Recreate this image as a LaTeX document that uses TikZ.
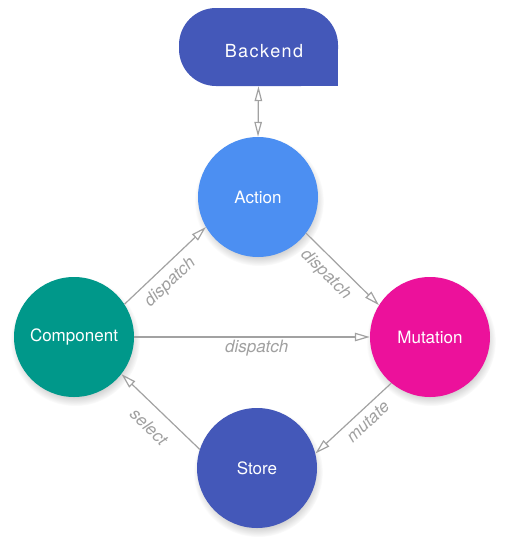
\documentclass[tikz,border=0pt]{standalone}
\usepackage{fontspec}
\setmainfont{TeX Gyre Heros}
\usetikzlibrary{arrows.meta,shadows}
\definecolor{indigoc}{RGB}{68,88,185}
\definecolor{actionc}{RGB}{76,143,242}
\definecolor{tealc}{RGB}{0,152,138}
\definecolor{pinkc}{RGB}{236,17,155}
\definecolor{linec}{RGB}{162,162,162}
\definecolor{labelc}{RGB}{160,160,160}
\tikzset{
  circ/.style={circle, minimum size=120pt, inner sep=0pt, text=white,
    font=\fontsize{17}{20}\selectfont,
    circular drop shadow={shadow xshift=1pt, shadow yshift=-4pt, shadow scale=1.08, opacity=0.35}},
  tip/.style={Triangle[open, length=15pt, width=8pt]},
  conn/.style={draw=linec, line width=1.2pt, -{Triangle[open, length=15pt, width=8.5pt]}},
  biconn/.style={draw=linec, line width=1.2pt, {Triangle[open, length=15pt, width=7.5pt]}-{Triangle[open, length=15pt, width=7.5pt]}},
  lbl/.style={font=\fontsize{17}{20}\selectfont\itshape, text=labelc, inner sep=0pt, sloped},
}
\begin{document}
\begin{tikzpicture}[x=1pt, y=-1pt]
\useasboundingbox (0,0) rectangle (508,547);
% Backend shape
\fill[indigoc, rounded corners=37pt] (179,8) rectangle (338,86);
\fill[indigoc] (300,48) rectangle (338,86);
\node[minimum width=159pt, minimum height=78pt, inner sep=0pt] (backend) at (258.5,47) {};
\node[text=white, font=\fontsize{18}{21}\selectfont, inner sep=0pt] (backendtxt) at (264,51) {\addfontfeature{LetterSpace=8}Backend};
% circles
\node[circ, fill=actionc] (act) at (258,197) {Action};
\node[circ, fill=tealc] (comp) at (74,337) {Component};
\node[circ, fill=pinkc] (mut) at (430,337) {Mutation};
\node[circ, fill=indigoc] (store) at (257,468) {Store};
% connectors
\draw[biconn] (backend.south) -- (act.north);
\draw[conn] (comp.33) -- node[lbl, pos=0.43, below=7pt] (l1) {dispatch} (act.210);
\draw[conn] (act.-37) -- node[lbl, pos=0.42, below=7pt] (l2) {dispatch} (mut.148);
\draw[conn] (comp.east) -- node[lbl, pos=0.52, below=3pt] (l3) {dispatch} (mut.west);
\draw[conn] (mut.230) -- node[lbl, pos=0.42, below=6pt] (l4) {mutate} (store.14);
\draw[conn] (store.162) -- node[lbl, pos=0.48, below=12pt] (l5) {select} (comp.322);
\end{tikzpicture}
\end{document}
